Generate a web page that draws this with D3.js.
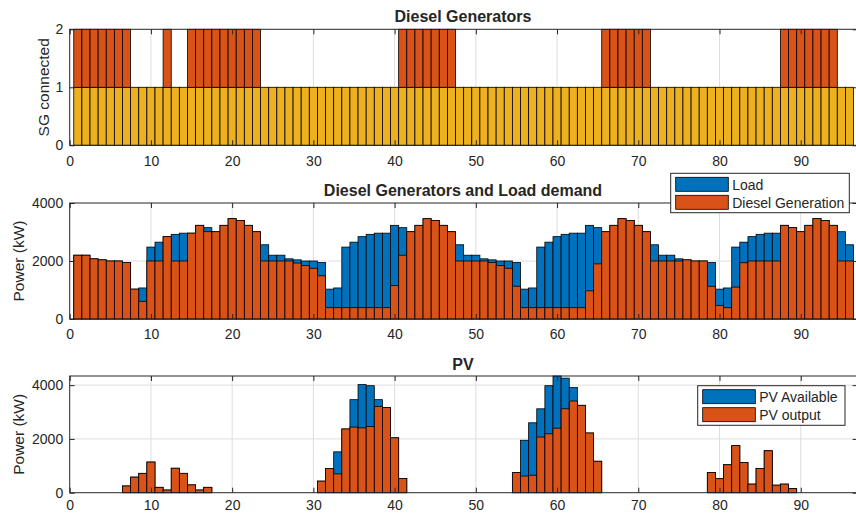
<!DOCTYPE html>
<html>
<head>
<meta charset="utf-8">
<script src="https://cdn.jsdelivr.net/npm/d3@7"></script>
<style>
  html, body { margin: 0; padding: 0; background: #fff; }
  svg { display: block; }
  text { font-family: "Liberation Sans", Arial, Helvetica, sans-serif; fill: #262626; }
</style>
</head>
<body>
<svg id="chart" width="856" height="514"></svg>
<script>
// ---- data: 96 time steps (15‑min intervals over a day) ----
const steps = d3.range(1, 97);
const xTicks = [0, 10, 20, 30, 40, 50, 60, 70, 80, 90];

// generators connected: base unit always on, second unit on/off
const sgFirst = Array(96).fill(1);
const sgSecond = [
  1,1,1,1,1,1,1,0,0,0,
  0,1,0,0,1,1,1,1,1,1,
  1,1,1,0,0,0,0,0,0,0,
  0,0,0,0,0,0,0,0,0,0,
  1,1,1,1,1,1,1,0,0,0,
  0,0,0,0,0,0,0,0,0,0,
  0,0,0,0,0,1,1,1,1,1,
  1,0,0,0,0,0,0,0,0,0,
  0,0,0,0,0,0,0,1,1,1,
  1,1,1,1,0,0
];
const sgTicks = [0, 1, 2];

// load demand and diesel generation (kW)
const loadDemand = [
  2200,2200,2075,2040,2000,2000,1950,1030,1070,2480,
  2650,2840,2920,2960,2960,3230,3150,3010,3230,3460,
  3400,3230,3010,2560,2200,2200,2075,2040,2000,2000,
  1950,1030,1070,2480,2650,2840,2920,2960,2960,3230,
  3150,3010,3230,3460,3400,3230,3010,2560,2200,2200,
  2075,2040,2000,2000,1950,1030,1070,2480,2650,2840,
  2920,2960,2960,3230,3150,3010,3230,3460,3400,3230,
  3010,2560,2200,2200,2075,2040,2000,2000,1950,1030,
  1070,2480,2650,2840,2920,2960,2960,3230,3150,3010,
  3230,3460,3400,3230,3010,2560
];
const dieselGen = [
  2200,2200,2075,2040,2000,2000,1950,1030,610,2000,
  2000,2840,2000,2000,2960,3230,3010,3010,3230,3460,
  3400,3230,3010,2000,2000,2000,2000,1930,1840,1750,
  1490,390,390,390,390,390,390,390,390,1150,
  2200,3010,3230,3460,3400,3230,3010,2000,2000,2000,
  2000,1950,1840,1750,1130,390,390,390,390,390,
  390,390,390,970,1900,3010,3230,3460,3400,3230,
  3010,2000,2000,2000,2000,2040,2000,2000,1130,470,
  390,1100,1940,2000,2000,2000,2000,3230,3150,3010,
  3230,3460,3400,3230,2000,2000
];
const powerTicks = [0, 2000, 4000];

// photovoltaic (kW)
const pvAvailable = [
  0,0,0,0,0,0,250,580,720,1140,
  200,100,910,720,290,100,200,0,0,0,
  0,0,0,0,0,0,0,0,0,0,
  430,900,1520,2370,3460,4020,3980,3460,3170,2040,
  530,0,0,0,0,0,0,0,0,0,
  0,0,0,0,750,1950,2600,3120,3980,4340,
  4260,3910,3250,2220,1170,0,0,0,0,0,
  0,0,0,0,0,0,0,0,750,520,
  1040,1750,1120,320,900,1560,280,320,150,0,
  0,0,0,0,0,0
];
const pvOutput = [
  0,0,0,0,0,0,250,580,720,1140,
  200,100,910,720,290,100,200,0,0,0,
  0,0,0,0,0,0,0,0,0,0,
  430,900,700,2370,2440,2410,2460,3210,3170,2040,
  530,0,0,0,0,0,0,0,0,0,
  0,0,0,0,750,620,650,2070,2190,2400,
  3120,3410,3250,2220,1170,0,0,0,0,0,
  0,0,0,0,0,0,0,0,750,520,
  1040,1750,1120,320,900,1560,280,320,150,0,
  0,0,0,0,0,0
];

const colors = { blue: "#0072BD", orange: "#D95319", yellow: "#EDB120" };
const ink = "#262626";
const plain = d3.format("d");

// ---- layout ----
const svg = d3.select("#chart");
const X0 = 69.7, X1 = 857.6;
const x = d3.scaleLinear().domain([0, 97]).range([X0, X1]);
const bw = x(1) - x(0);

function panel(cfg) {
  const y = d3.scaleLinear().domain([0, cfg.ymax]).range([cfg.bottom, cfg.top]);
  const g = svg.append("g");

  // grid
  g.append("g").selectAll("line").data(xTicks.filter(t => t > 0)).join("line")
    .attr("x1", d => x(d)).attr("x2", d => x(d))
    .attr("y1", cfg.top).attr("y2", cfg.bottom)
    .attr("stroke", "#dedede").attr("stroke-width", 1);
  g.append("g").selectAll("line").data(cfg.yTicks.filter(t => t > 0 && t < cfg.ymax)).join("line")
    .attr("x1", X0).attr("x2", X1)
    .attr("y1", d => y(d)).attr("y2", d => y(d))
    .attr("stroke", "#dedede").attr("stroke-width", 1);

  // bars (each layer: values, base values, colour)
  cfg.layers.forEach(layer => {
    const rows = steps.map((s, i) => ({ s, v: layer.values[i], b: layer.base ? layer.base[i] : 0 }))
      .filter(r => r.v > 0);
    g.append("g").selectAll("rect").data(rows).join("rect")
      .attr("x", r => x(r.s - 0.5))
      .attr("width", bw)
      .attr("y", r => y(r.b + r.v))
      .attr("height", r => y(r.b) - y(r.b + r.v))
      .attr("fill", layer.color)
      .attr("stroke", "#000").attr("stroke-width", 0.8);
  });

  // axes (ticks point inward, box on)
  const bottom = g.append("g").attr("transform", `translate(0,${cfg.bottom})`)
    .call(d3.axisBottom(x).tickValues(xTicks).tickSize(-5).tickPadding(cfg.xPad).tickFormat(plain));
  const topAx = g.append("g").attr("transform", `translate(0,${cfg.top})`)
    .call(d3.axisTop(x).tickValues(xTicks).tickSize(-5).tickFormat(""));
  const left = g.append("g").attr("transform", `translate(${X0},0)`)
    .call(d3.axisLeft(y).tickValues(cfg.yTicks).tickSize(-5).tickPadding(6.5).tickFormat(plain));
  const right = g.append("g").attr("transform", `translate(${X1},0)`)
    .call(d3.axisRight(y).tickValues(cfg.yTicks).tickSize(-5).tickFormat(""));
  [bottom, topAx, left, right].forEach(a => {
    a.select(".domain").remove();
    a.selectAll(".tick line").attr("stroke", ink);
    a.selectAll(".tick text").attr("fill", ink)
      .style("font-family", '"Liberation Sans", Arial, sans-serif').style("font-size", "14px");
  });
  g.append("rect").attr("x", X0).attr("y", cfg.top)
    .attr("width", X1 - X0).attr("height", cfg.bottom - cfg.top)
    .attr("fill", "none").attr("stroke", ink).attr("stroke-width", 1);

  // title
  g.append("text").attr("x", 463).attr("y", cfg.titleY)
    .attr("text-anchor", "middle").style("font-size", "16px").style("font-weight", "bold")
    .text(cfg.title);

  // y label
  g.append("text")
    .attr("transform", `translate(${cfg.labelX},${(cfg.top + cfg.bottom) / 2}) rotate(-90)`)
    .attr("dy", "0.35em").attr("text-anchor", "middle").style("font-size", "15.5px")
    .text(cfg.ylabel);

  // legend
  if (cfg.legend) {
    const L = cfg.legend;
    const lg = g.append("g");
    lg.append("rect").attr("x", L.x).attr("y", L.y).attr("width", L.w).attr("height", L.h)
      .attr("fill", "#fff").attr("stroke", ink).attr("stroke-width", 1);
    L.items.forEach((it, i) => {
      const sy = L.y + 4 + i * 18;
      lg.append("rect").attr("x", L.x + 5).attr("y", sy).attr("width", 52.6).attr("height", 14)
        .attr("fill", it.color).attr("stroke", "#000").attr("stroke-width", 0.8);
      lg.append("text").attr("x", L.x + 61.5).attr("y", sy + 12.2)
        .style("font-size", "14px").text(it.label);
    });
  }
}

panel({
  top: 29.3, bottom: 145.3, ymax: 2, yTicks: sgTicks, xPad: 10.5,
  title: "Diesel Generators", titleY: 21.7,
  ylabel: "SG connected", labelX: 43.3,
  layers: [
    { values: sgFirst, color: colors.yellow },
    { values: sgSecond, base: sgFirst, color: colors.orange }
  ]
});

panel({
  top: 203, bottom: 319, ymax: 4000, yTicks: powerTicks, xPad: 10.5,
  title: "Diesel Generators and Load demand", titleY: 196,
  ylabel: "Power (kW)", labelX: 19,
  layers: [
    { values: loadDemand, color: colors.blue },
    { values: dieselGen, color: colors.orange }
  ],
  legend: { x: 670.7, y: 173.3, w: 178.6, h: 39.4,
    items: [{ label: "Load", color: colors.blue }, { label: "Diesel Generation", color: colors.orange }] }
});

panel({
  top: 376, bottom: 492.7, ymax: 4340, yTicks: powerTicks, xPad: 7.8,
  title: "PV", titleY: 369.5,
  ylabel: "Power (kW)", labelX: 19,
  layers: [
    { values: pvAvailable, color: colors.blue },
    { values: pvOutput, color: colors.orange }
  ],
  legend: { x: 697.7, y: 385.7, w: 147.3, h: 39.6,
    items: [{ label: "PV Available", color: colors.blue }, { label: "PV output", color: colors.orange }] }
});
</script>
</body>
</html>
